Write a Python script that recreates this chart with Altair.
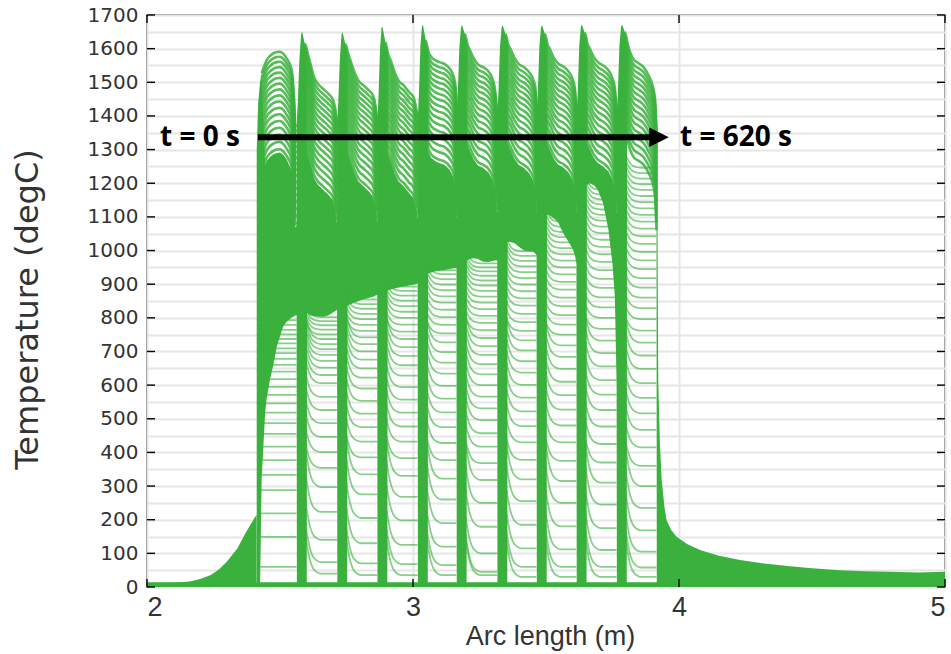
import altair as alt
import pandas as pd

GREEN = "#39b13c"

# ---------------- data ----------------
# left edges of the dense vertical strips (m)
STRIP_X = [2.412, 2.563, 2.715, 2.866, 3.018, 3.164, 3.317, 3.465, 3.615, 3.766, 3.916]

# rising foot before the first strip
RAMP_X = [2.00, 2.10, 2.16, 2.20, 2.24, 2.27, 2.30, 2.34, 2.37, 2.40, 2.412]
RAMP_T = [12, 13, 16, 24, 36, 52, 75, 115, 160, 200, 215]

# first hump: envelope (top) and lower edge of the dense region (bottom)
HUMP1_X = [2.4125, 2.418, 2.425, 2.431, 2.444, 2.450, 2.462, 2.475, 2.488, 2.500,
           2.512, 2.525, 2.544, 2.553, 2.558, 2.5625]
HUMP1_TOP = [1300, 1440, 1500, 1527, 1555, 1566, 1578, 1586, 1590, 1591,
             1585, 1571, 1537, 1447, 1368, 1375]
HUMP1_BOT = [0, 0, 0, 318, 517, 560, 615, 660, 714, 745, 774, 788, 801, 805, 807, 808]

# humps 2..10 sampled at offsets from their strip edge (last sample = next strip)
HUMP_REL = [0.0005, 0.004, 0.010, 0.016, 0.020, 0.030, 0.0375, 0.0385,
            0.050, 0.065, 0.080, 0.100, 0.120, 0.135, 0.144]
H2_TOP = [1390, 1440, 1570, 1640, 1652, 1615, 1600, 1596, 1560, 1515, 1495, 1480, 1465, 1450, 1425, 1380]
H3_TOP = [1385, 1440, 1570, 1640, 1650, 1615, 1598, 1594, 1565, 1530, 1505, 1490, 1475, 1460, 1430, 1385]
H4_TOP = [1390, 1450, 1600, 1665, 1662, 1620, 1595, 1590, 1566, 1530, 1505, 1490, 1470, 1457, 1430, 1395]
H5_TOP = [1400, 1460, 1610, 1670, 1668, 1625, 1600, 1596, 1576, 1566, 1560, 1555, 1540, 1517, 1470, 1400]
H6_TOP = [1400, 1460, 1600, 1660, 1672, 1645, 1625, 1620, 1596, 1570, 1553, 1545, 1532, 1510, 1480, 1410]
H7_TOP = [1410, 1465, 1605, 1662, 1670, 1645, 1625, 1620, 1598, 1572, 1555, 1545, 1530, 1508, 1478, 1410]
H8_TOP = [1410, 1465, 1605, 1662, 1670, 1645, 1625, 1620, 1598, 1572, 1556, 1547, 1532, 1510, 1480, 1410]
H9_TOP = [1410, 1465, 1608, 1665, 1672, 1648, 1628, 1622, 1600, 1575, 1560, 1550, 1535, 1512, 1482, 1410]
H10_TOP = [1410, 1465, 1608, 1665, 1672, 1650, 1630, 1625, 1590, 1566, 1558, 1546, 1520, 1490, 1450, 1350]

# lower edge of the dense region right of each strip (offsets 0.0385 ... next strip)
H2_BOT = [815, 808, 805, 804, 803, 808, 815, 820, 823]
H3_BOT = [836, 840, 845, 850, 855, 860, 863, 866, 868]
H4_BOT = [882, 884, 887, 890, 893, 896, 898, 900, 902]
H5_BOT = [932, 935, 938, 940, 942, 945, 947, 948, 948]
H6_BOT = [972, 975, 977, 975, 967, 966, 969, 970, 970]
H7_BOT = [1026, 1025, 1022, 1012, 1000, 998, 997, 990, 985]
H8_BOT = [1106, 1104, 1095, 1085, 1051, 1025, 1005, 985, 960]
H9_BOT = [1195, 1200, 1195, 1180, 1140, 1060, 960, 860, 600]
H10_BOT = [1325, 1290, 1266, 1258, 1246, 1220, 1190, 1150, 1050]

# final drop and tail after the last strip
TAIL_X = [3.9165, 3.919, 3.922, 3.928, 3.935, 3.945, 3.953, 3.97, 3.99, 4.03, 4.079,
          4.15, 4.229, 4.32, 4.417, 4.5, 4.605, 4.7, 4.793, 4.9, 5.0]
TAIL_T = [1350, 1100, 615, 430, 318, 240, 199, 170, 150, 128, 110,
          93, 80, 70, 62, 56, 50, 47, 45, 43, 45]

# plateau levels of the individual curves visible in each gap
G0 = [60, 149, 219, 288, 333, 377, 417, 455, 487, 518, 546, 571, 595, 618, 640, 660,
      678, 695, 709, 724, 737, 751, 764, 779, 793]
G1 = [40, 74, 140, 223, 297, 354, 401, 446, 487, 526, 565, 606, 630, 652, 672, 690,
      707, 722, 737, 751, 765, 778, 790, 802]
G2 = [35, 70, 130, 205, 275, 335, 385, 432, 475, 515, 553, 590, 622, 650, 676, 700,
      722, 742, 761, 779, 796, 812, 827, 841, 855]
G3 = [35, 68, 125, 198, 268, 330, 383, 432, 477, 518, 557, 594, 628, 659, 687, 713,
      737, 759, 780, 800, 818, 835, 851, 866, 880, 893]
G4 = [35, 65, 120, 190, 260, 322, 377, 428, 475, 519, 560, 598, 634, 667, 698, 727,
      754, 779, 802, 824, 845, 864, 882, 899, 915, 930, 942]
G5 = [35, 45, 100, 179, 250, 318, 368, 417, 457, 496, 531, 566, 600, 632, 662, 690,
      716, 740, 763, 785, 806, 826, 845, 863, 880, 896, 911, 925, 938, 950, 962]
G6 = [30, 60, 115, 185, 255, 320, 378, 430, 478, 522, 563, 601, 637, 671, 703, 733,
      761, 787, 812, 836, 858, 879, 899, 918, 936, 953, 969, 984, 998]
G7 = [30, 60, 112, 180, 250, 315, 375, 430, 480, 527, 570, 610, 648, 684, 718, 750,
      780, 808, 835, 860, 884, 907, 929, 950, 970, 989, 1007, 1024, 1040, 1055, 1070,
      1085, 1100]
G8 = [30, 60, 110, 175, 245, 310, 370, 425, 477, 526, 572, 615, 656, 695, 732, 767,
      800, 831, 861, 889, 916, 942, 966, 989, 1011, 1032, 1052, 1071, 1089, 1106,
      1122, 1137, 1152, 1166, 1180, 1193]
G9 = [30, 58, 105, 168, 235, 300, 360, 415, 467, 516, 562, 606, 648, 688, 726, 762,
      796, 829, 860, 890, 918, 945, 971, 996, 1020, 1043, 1065, 1086, 1106, 1125,
      1144, 1162, 1180, 1197, 1214, 1230, 1246]

# late-time curves just below the envelope in each hump (depth below the envelope, degC)
STRIPE_OFFSETS = [0, 15, 30, 46, 62, 78, 95, 112, 130, 148, 167, 186, 206, 226, 247, 268, 290]
STRIPE_DEPTH = 300

# shape of the knee where a curve leaves a strip (offset from strip edge, share of drop)
KNEE_DX = [0.030, 0.040, 0.048, 0.058, 0.072, 0.090]
KNEE_FRAC = [1.0, 0.6, 0.35, 0.16, 0.05, 0.0]

Y_TICKS = list(range(0, 1701, 100))
Y_GRID = list(range(0, 1701, 50))
X_TICKS = [2, 3, 4, 5]

# ---------------- tables ----------------
fill_rows = []
stripe_rows = []


def add_fill(seg, xs, tops, bots):
    for i, (x, t, b) in enumerate(zip(xs, tops, bots)):
        fill_rows.append({"seg": seg, "i": i, "x": x, "top": t, "bot": b})


def add_stripes(name, xs, tops):
    for n, off in enumerate(STRIPE_OFFSETS):
        for i, (x, t) in enumerate(zip(xs, tops)):
            stripe_rows.append({"id": f"{name}_{n}", "i": i, "x": x, "y": t - off})


add_fill("ramp", RAMP_X, RAMP_T, [0] * len(RAMP_X))

# first hump: striped dome from index 4 on
mx = list(HUMP1_X)
mb = list(HUMP1_BOT)
mt = [t if i < 4 else max(b, t - STRIPE_DEPTH) for i, (t, b) in enumerate(zip(HUMP1_TOP, HUMP1_BOT))]
add_stripes("h1", HUMP1_X[3:], HUMP1_TOP[3:])

tops = [H2_TOP, H3_TOP, H4_TOP, H5_TOP, H6_TOP, H7_TOP, H8_TOP, H9_TOP, H10_TOP]
bots = [H2_BOT, H3_BOT, H4_BOT, H5_BOT, H6_BOT, H7_BOT, H8_BOT, H9_BOT, H10_BOT]
for k in range(9):
    s, e = STRIP_X[k + 1], STRIP_X[k + 2]
    hx = [s + r for r in HUMP_REL] + [e - 0.0005]
    hb = [0] * 7 + bots[k]
    ht = [t if i < 7 else max(b, t - STRIPE_DEPTH) for i, (t, b) in enumerate(zip(tops[k], hb))]
    mx += hx
    mt += ht
    mb += hb
    add_stripes(f"h{k + 2}", hx[5:], tops[k][5:])
mx += TAIL_X
mt += TAIL_T
mb += [0] * len(TAIL_X)
add_fill("main", mx, mt, mb)
add_fill("base", [2.0, 5.0], [14, 14], [0, 0])
fill_df = pd.DataFrame(fill_rows)
stripe_df = pd.DataFrame(stripe_rows)

line_rows = []
gaps = [G0, G1, G2, G3, G4, G5, G6, G7, G8, G9]
for j, levels in enumerate(gaps):
    s, e = STRIP_X[j], STRIP_X[j + 1]
    for n, L in enumerate(levels):
        lid = f"g{j}_{n}"
        if j == 0:
            pts = [(s + 0.001, L), (e - 0.001, L)]
        else:
            D = 130 if L < 350 else (80 if L < 750 else 45)
            pts = [(s + dx, L + D * f) for dx, f in zip(KNEE_DX, KNEE_FRAC)]
            pts.append((e - 0.001, L))
        for i, (x, y) in enumerate(pts):
            line_rows.append({"id": lid, "i": i, "x": x, "y": y})
line_df = pd.DataFrame(line_rows)

# ---------------- chart ----------------
W, H = 798, 572
xs = alt.Scale(domain=[2, 5], nice=False, zero=False)
ys = alt.Scale(domain=[0, 1700], nice=False, zero=False)

x_axis = alt.Axis(values=X_TICKS, format="d", title="Arc length (m)", grid=True,
                  gridColor="#e6e6e6", gridWidth=2, ticks=False, domain=False,
                  labelFont="Liberation Sans", labelFontSize=27, labelColor="#333333",
                  labelPadding=7, labelOverlap=False,
                  titleFont="Liberation Sans", titleFontSize=27, titleFontWeight="normal",
                  titleColor="#333333", titleX=W / 2 + 4, titleY=49, titleBaseline="middle")
y_axis = alt.Axis(values=Y_GRID,
                  labelExpr="datum.value % 100 === 0 ? format(datum.value, 'd') : ''",
                  title="Temperature (degC)", grid=True, gridColor="#e6e6e6", gridWidth=2,
                  ticks=False, domain=False, labelFont="DejaVu Sans", labelFontSize=20,
                  labelColor="#333333", labelPadding=9, labelOverlap=False,
                  titleFont="DejaVu Sans", titleFontSize=32, titleFontWeight="normal",
                  titleColor="#333333", titleX=-120, titleY=H / 2 + 8, titleAngle=270,
                  titleAlign="center", titleBaseline="middle")


def X(field):
    return alt.X(field, scale=xs, axis=x_axis)


def Y(field):
    return alt.Y(field, scale=ys, axis=y_axis, stack=None)


fill = alt.Chart(fill_df).mark_area(color=GREEN, opacity=1, clip=True,
                                    interpolate="linear").encode(
    x=X("x:Q"), y=Y("top:Q"), y2="bot:Q", detail="seg:N")

stripes = alt.Chart(stripe_df).mark_line(color=GREEN, opacity=0.85, strokeWidth=2.6, clip=True,
                                         interpolate="monotone").encode(
    x=X("x:Q"), y=Y("y:Q"), detail="id:N", order="i:Q")

lines = alt.Chart(line_df).mark_line(color=GREEN, opacity=0.6, strokeWidth=1.8, clip=True,
                                     interpolate="monotone").encode(
    x=X("x:Q"), y=Y("y:Q"), detail="id:N", order="i:Q")

ann_df = pd.DataFrame({"x": [2.049, 4.004], "y": [1334, 1334], "label": ["t = 0 s", "t = 620 s"]})
texts = alt.Chart(ann_df).mark_text(align="left", baseline="middle", font="Open Sans",
                                    fontWeight="bold", fontSize=28, color="black").encode(
    x=X("x:Q"), y=Y("y:Q"), text="label:N")

arrow_df = pd.DataFrame({"x": [2.417], "x2": [3.895], "y": [1337]})
arrow = alt.Chart(arrow_df).mark_rule(color="black", strokeWidth=6).encode(
    x=X("x:Q"), x2="x2:Q", y=Y("y:Q"))
head_df = pd.DataFrame({"x": [3.925], "y": [1337]})
head = alt.Chart(head_df).mark_point(shape="M -1 -1 L 1 0 L -1 1 Z", filled=True, color="black",
                                     opacity=1, size=380).encode(x=X("x:Q"), y=Y("y:Q"))

yt_df = pd.DataFrame({"t": Y_TICKS})
xt_df = pd.DataFrame({"v": X_TICKS})
tk = dict(color="black", strokeWidth=1.4)
ticks_l = alt.Chart(yt_df).mark_rule(**tk).encode(y=Y("t:Q"), x=alt.value(0), x2=alt.value(8))
ticks_r = alt.Chart(yt_df).mark_rule(**tk).encode(y=Y("t:Q"), x=alt.value(W), x2=alt.value(W - 8))
ticks_b = alt.Chart(xt_df).mark_rule(**tk).encode(x=X("v:Q"), y=alt.value(H), y2=alt.value(H - 8))
ticks_t = alt.Chart(xt_df).mark_rule(**tk).encode(x=X("v:Q"), y=alt.value(0), y2=alt.value(8))

chart = alt.layer(fill, stripes, lines, arrow, head, texts,
                  ticks_l, ticks_r, ticks_b, ticks_t).properties(
    width=W, height=H,
    padding={"left": 147, "top": 15, "right": 6, "bottom": 67},
    autosize=alt.AutoSizeParams(type="none"),
    background="white",
).configure_view(stroke="black", strokeWidth=1.4)

chart.save("out.html", embed_options={"renderer": "svg", "actions": False})
